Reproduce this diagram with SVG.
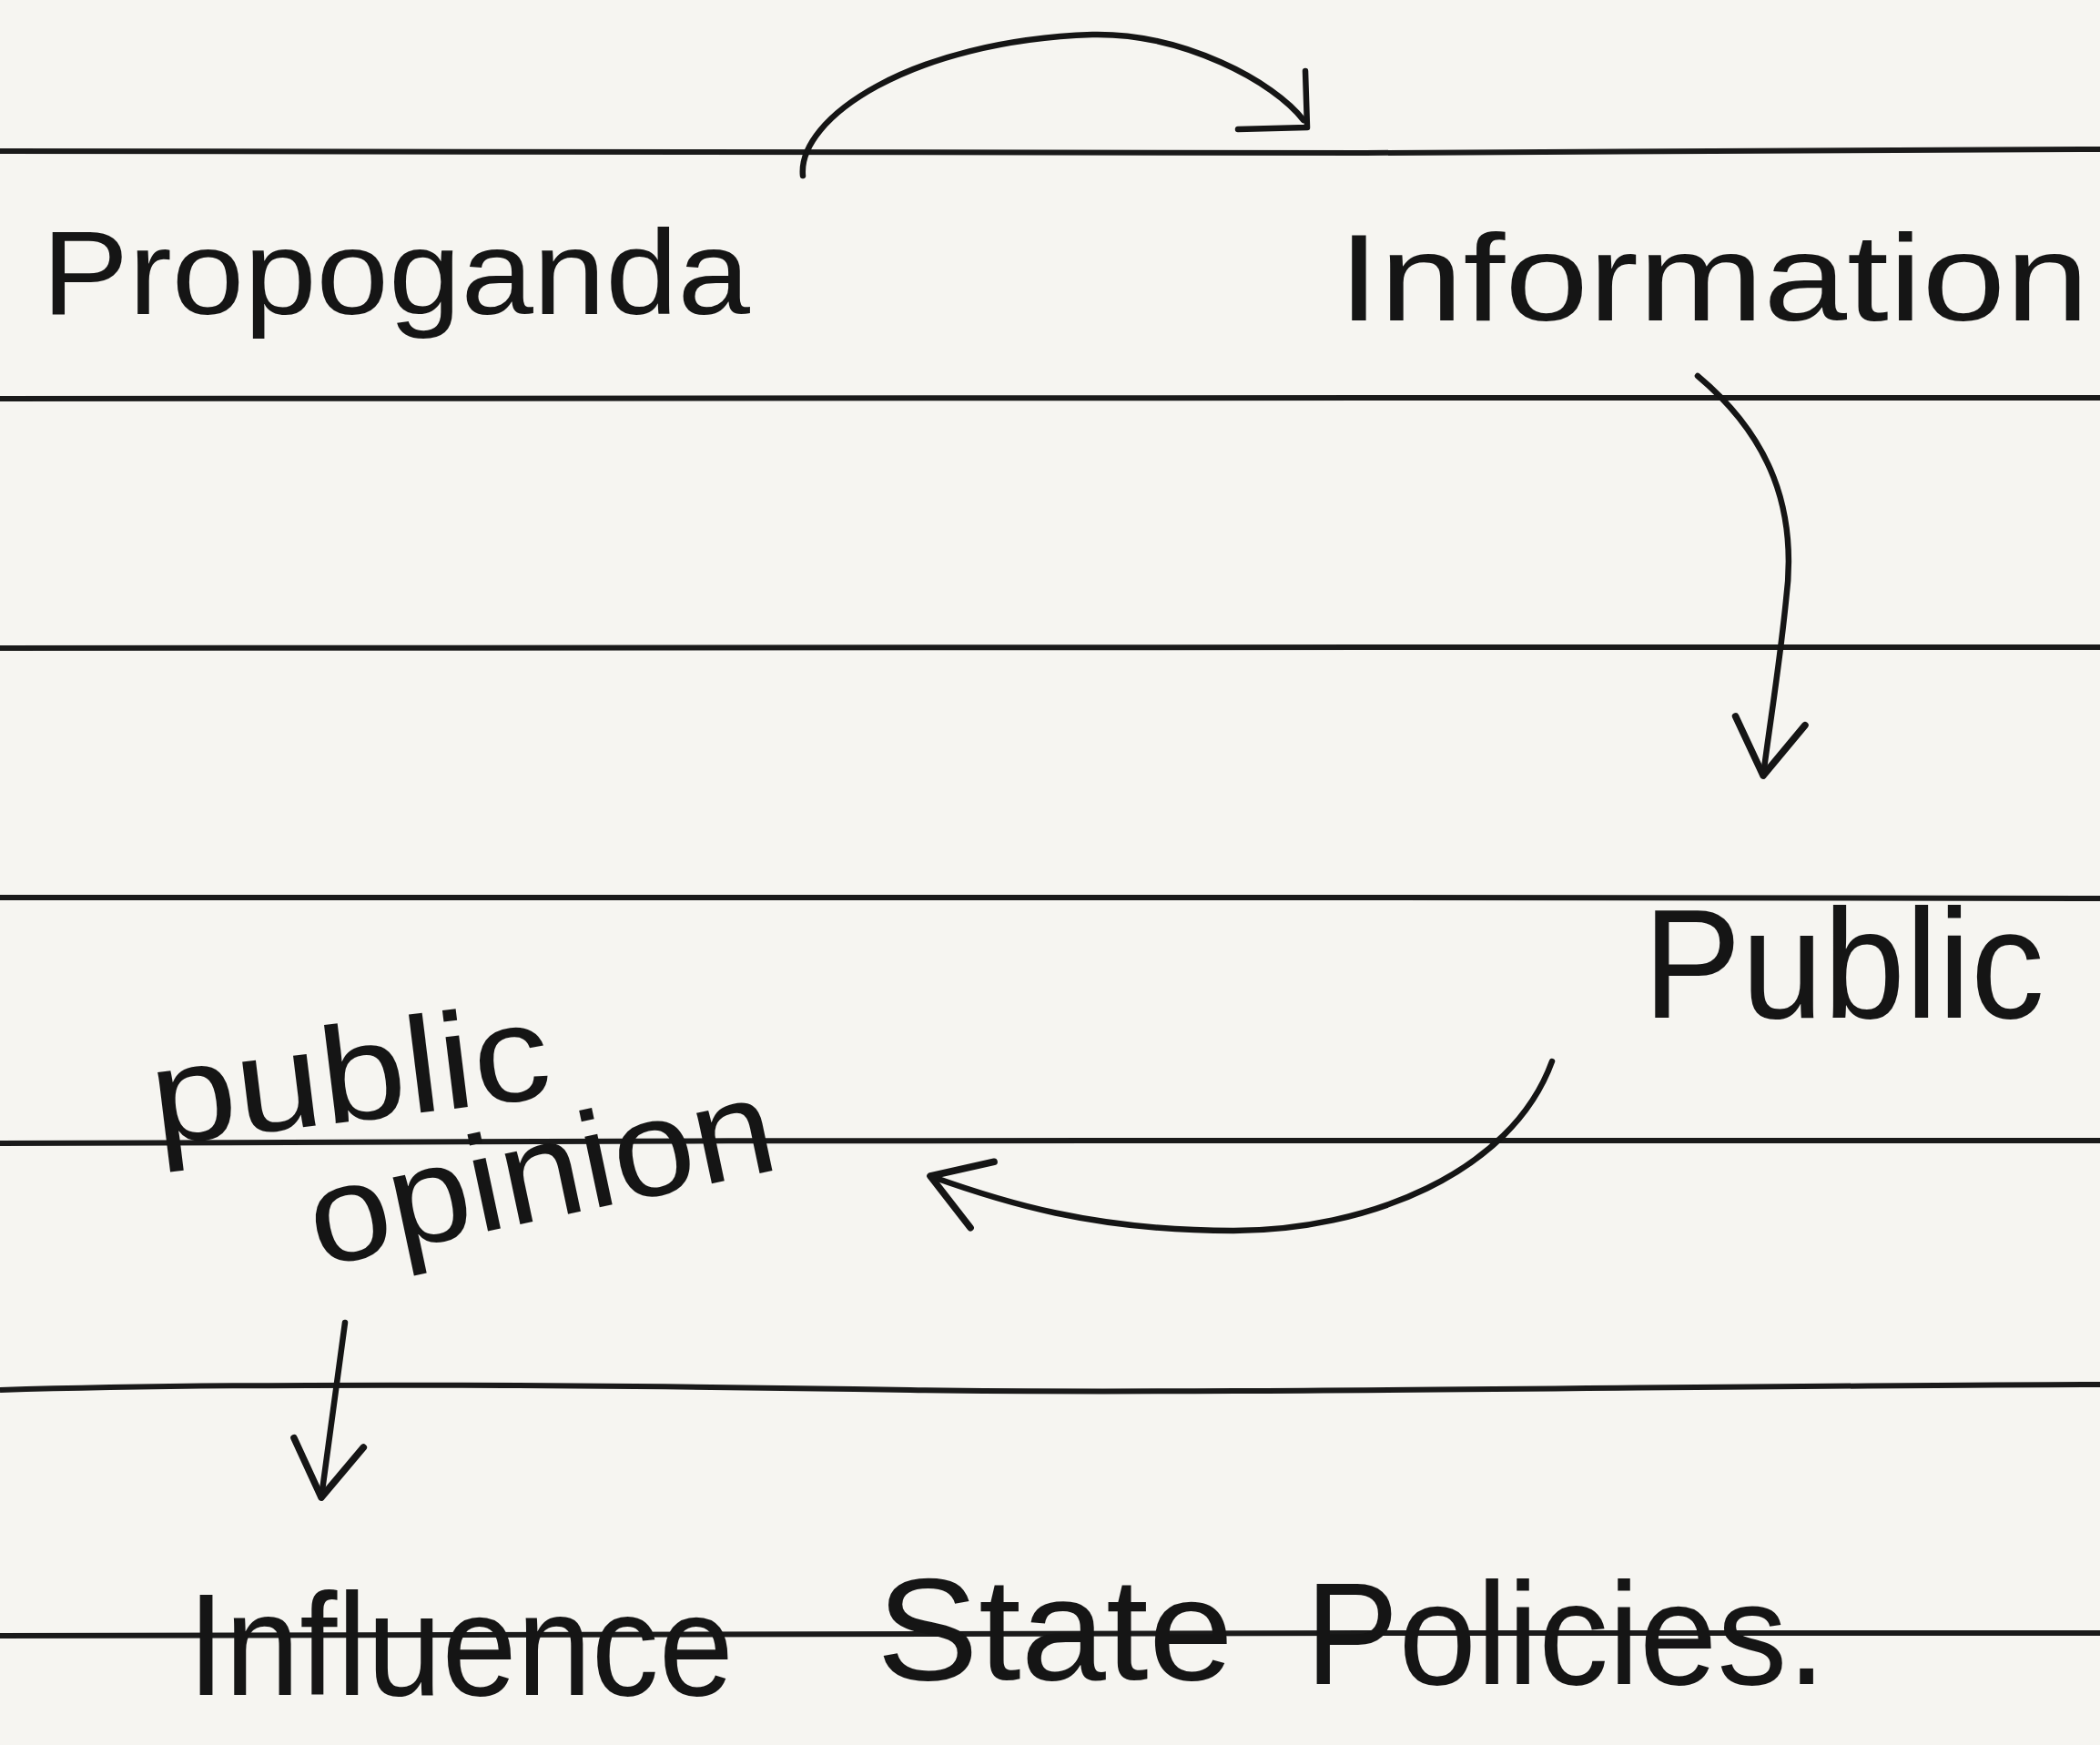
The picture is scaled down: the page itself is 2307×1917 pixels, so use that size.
<svg xmlns="http://www.w3.org/2000/svg" width="2307" height="1917" viewBox="0 0 2307 1917">
  <style>
    .rule { stroke: #1a1a1a; stroke-width: 6; fill: none; }
    .ink { stroke: #151515; stroke-width: 6.5; fill: none; stroke-linecap: round; stroke-linejoin: round; }
    .hand { font-family: "Liberation Sans", "DejaVu Sans", sans-serif; fill: #151515; font-weight: normal; }
  </style>
  <defs>
    <marker id="head" markerUnits="userSpaceOnUse" markerWidth="140" markerHeight="140" viewBox="-70 -60 80 120" refX="0" refY="0" orient="auto" overflow="visible">
      <path d="M-52,-33 L0,0 L-52,33" fill="none" stroke="#151515" stroke-width="6.5" stroke-linecap="round" stroke-linejoin="round"/>
    </marker>
  </defs>
  <rect x="0" y="0" width="2307" height="1917" fill="#f6f5f1"/>

  <g id="ruling">
    <path class="rule" d="M0,166 C700,163 1100,171 1500,168 S2100,163 2307,164"/>
    <path class="rule" d="M0,438 C600,434 1100,437 1500,437 S2100,436 2307,437"/>
    <path class="rule" d="M0,712 C600,710 1100,711 1500,711 S2100,712 2307,711"/>
    <path class="rule" d="M0,986 C600,984 1100,985 1500,986 S2100,986 2307,987"/>
    <path class="rule" d="M0,1256 C400,1252 800,1254 1200,1253 S2000,1253 2307,1253"/>
    <path class="rule" d="M0,1527 C300,1518 700,1522 1000,1527 S1900,1522 2307,1521"/>
    <path class="rule" d="M0,1797 C600,1793 1100,1792 1500,1794 S2100,1795 2307,1794"/>
  </g>

  <g id="propaganda">
    <text class="hand" x="46" y="345" font-size="132" textLength="778" lengthAdjust="spacingAndGlyphs">Propoganda</text>
  </g>
  <g id="information">
    <text class="hand" x="1470" y="352" font-size="135" textLength="825" lengthAdjust="spacingAndGlyphs">Information</text>
  </g>
  <g id="public">
    <text class="hand" x="1805" y="1118" font-size="170" textLength="441" lengthAdjust="spacingAndGlyphs">Public</text>
  </g>
  <g id="public-opinion">
    <text class="hand" x="172" y="1258" font-size="150" textLength="440" lengthAdjust="spacingAndGlyphs" transform="rotate(-7 172 1258)">public</text>
    <text class="hand" x="350" y="1392" font-size="150" textLength="520" lengthAdjust="spacingAndGlyphs" transform="rotate(-12 350 1392)">opinion</text>
  </g>
  <g id="influence">
    <text class="hand" x="206" y="1862" font-size="160" textLength="600" lengthAdjust="spacingAndGlyphs">Influence</text>
    <text class="hand" x="963" y="1845" font-size="160" textLength="392" lengthAdjust="spacingAndGlyphs">State</text>
    <text class="hand" x="1434" y="1850" font-size="160" textLength="572" lengthAdjust="spacingAndGlyphs">Policies.</text>
  </g>

  <g id="connectors">
    <path class="ink" d="M882,193 C876,130 1000,45 1200,38 C1300,36 1400,90 1432,132"/>
    <path class="ink" d="M1434,78 L1436,140 L1360,142"/>
    <path class="ink" marker-end="url(#head)" d="M1865,413 C1945,480 1975,560 1962,660 C1955,730 1945,790 1937,852"/>
    <path class="ink" marker-end="url(#head)" d="M1705,1166 C1660,1290 1500,1352 1355,1352 C1200,1352 1100,1320 1022,1292"/>
    <path class="ink" marker-end="url(#head)" d="M379,1453 L353,1645"/>
  </g>
</svg>
